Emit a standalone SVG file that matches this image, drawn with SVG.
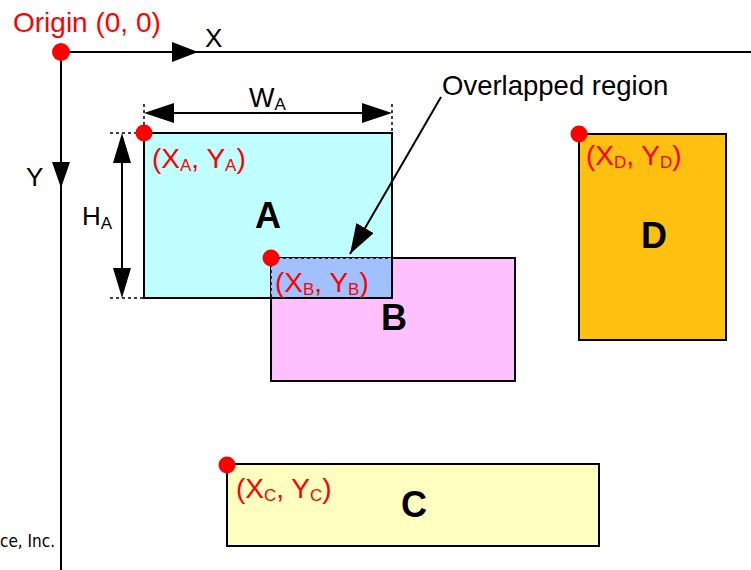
<svg xmlns="http://www.w3.org/2000/svg" width="751" height="570" viewBox="0 0 751 570">
<style>
text{font-family:"Liberation Sans",Arial,sans-serif}
.ax{stroke:#000;stroke-width:2;fill:none}
.box{stroke:#000;stroke-width:2}
.dash{stroke:#000;stroke-width:1.5;stroke-dasharray:3 3;fill:none}
.dot{fill:#ff0000}
.red{fill:#ff0000;font-size:28px}
.sub{font-size:17px}
.big{font-size:36px;font-weight:bold;text-anchor:middle}
.blk{fill:#000}
</style>
<defs>
<marker id="ah" markerWidth="30" markerHeight="20" refX="30" refY="10" orient="auto" markerUnits="userSpaceOnUse">
<path d="M0,0 L30,10 L0,20 Z" fill="#000"/>
</marker>
</defs>
<rect width="751" height="570" fill="#fff"/>

<g id="axes">
<line class="ax" x1="61" y1="52" x2="751" y2="52"/>
<line class="ax" x1="61" y1="52" x2="61" y2="570"/>
<path d="M172,42 L198,52 L172,62 Z" fill="#000"/>
<path d="M52,162 L61,188 L70,162 Z" fill="#000"/>
<text class="blk" x="205" y="47" style="font-size:26px">X</text>
<text class="blk" x="26" y="186" style="font-size:26px">Y</text>
</g>

<g id="nodeA">
<rect class="box" x="144" y="133" width="248" height="165" fill="#c0ffff"/>
</g>
<g id="nodeB">
<rect class="box" x="271" y="258" width="244" height="123" fill="#ffc0ff"/>
</g>
<g id="overlap">
<rect x="271" y="258" width="121" height="40" fill="#a0c0ff"/>
<path d="M144,133 H392 V298 H144 Z" class="box" fill="none"/>
<path class="dash" d="M271,258 H392 M271,258 V298"/>
</g>
<g id="nodeC">
<rect class="box" x="227" y="464" width="372" height="82" fill="#ffffc0"/>
</g>
<g id="nodeD">
<rect class="box" x="579" y="134" width="147" height="206" fill="#ffc010"/>
</g>

<g id="dims">
<path class="dash" d="M144,104 V133 M392,104 V133 M110,133 H144 M110,298 H144"/>
<line class="ax" x1="152" y1="113" x2="384" y2="113"/>
<path d="M144,113 L174,103 L174,123 Z" fill="#000"/>
<path d="M392,113 L362,103 L362,123 Z" fill="#000"/>
<line class="ax" x1="122" y1="140" x2="122" y2="291"/>
<path d="M122,133 L113,163 L131,163 Z" fill="#000"/>
<path d="M122,298 L113,268 L131,268 Z" fill="#000"/>
<text class="blk" x="249" y="107" style="font-size:27px">W<tspan class="sub" dy="3">A</tspan></text>
<text class="blk" x="82" y="225" style="font-size:26px">H<tspan class="sub" dy="4">A</tspan></text>
</g>

<g id="connectors">
<line class="ax" x1="441" y1="97" x2="350" y2="254" marker-end="url(#ah)"/>
</g>

<g id="dots">
<circle class="dot" cx="61" cy="52" r="9"/>
<circle class="dot" cx="144" cy="133" r="8.5"/>
<circle class="dot" cx="271" cy="258" r="8.5"/>
<circle class="dot" cx="227" cy="465" r="8.5"/>
<circle class="dot" cx="579" cy="134" r="8.5"/>
</g>

<g id="labels">
<text class="red" x="13" y="32">Origin (0, 0)</text>
<text class="blk" x="442" y="95" style="font-size:27.5px">Overlapped region</text>
<text class="red" x="152" y="168">(X<tspan class="sub" dy="3">A</tspan><tspan dy="-3">, Y</tspan><tspan class="sub" dy="3">A</tspan><tspan dy="-3">)</tspan></text>
<text class="red" x="275" y="292">(X<tspan class="sub" dy="3">B</tspan><tspan dy="-3">, Y</tspan><tspan class="sub" dy="3">B</tspan><tspan dy="-3">)</tspan></text>
<text class="red" x="236" y="498">(X<tspan class="sub" dy="3">C</tspan><tspan dy="-3">, Y</tspan><tspan class="sub" dy="3">C</tspan><tspan dy="-3">)</tspan></text>
<text class="red" x="586" y="165">(X<tspan class="sub" dy="3">D</tspan><tspan dy="-3">, Y</tspan><tspan class="sub" dy="3">D</tspan><tspan dy="-3">)</tspan></text>
<text class="big" x="268" y="228">A</text>
<text class="big" x="394" y="330">B</text>
<text class="big" x="414" y="517">C</text>
<text class="big" x="654" y="248">D</text>
<text x="55" y="547" text-anchor="end" style="font-size:17px;font-family:'DejaVu Sans Condensed',sans-serif">ce, Inc.</text>
</g>
</svg>
